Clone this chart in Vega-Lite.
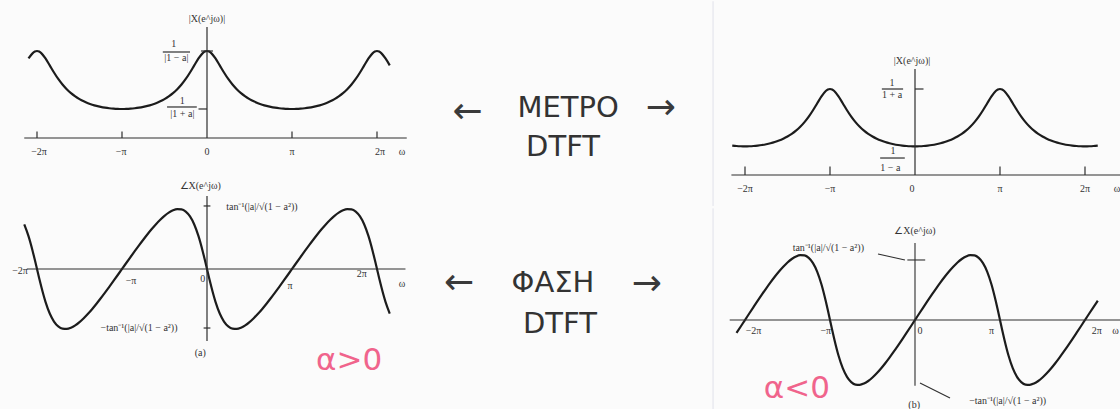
{
"$schema":"https://vega.github.io/schema/vega-lite/v6.json",
"padding":0,
"background":"#fbfbfb",
"config":{"view":{"stroke":null}},
"datasets":{"curve":[
{"t":-2.15,"m1":1.669,"p1":0.3888,"m2":0.6834,"p2":-0.1558},
{"t":-2.1,"m1":1.829,"p1":0.2867,"m2":0.674,"p2":-0.1043},
{"t":-2.05,"m1":1.9525,"p1":0.1533,"m2":0.6685,"p2":-0.0523},
{"t":-2.025,"m1":1.9878,"p1":0.0781,"m2":0.6671,"p2":-0.0262},
{"t":-2.0,"m1":2.0,"p1":0,"m2":0.6667,"p2":0},
{"t":-1.975,"m1":1.9878,"p1":-0.0781,"m2":0.6671,"p2":0.0262},
{"t":-1.95,"m1":1.9525,"p1":-0.1533,"m2":0.6685,"p2":0.0523},
{"t":-1.9,"m1":1.829,"p1":-0.2867,"m2":0.674,"p2":0.1043},
{"t":-1.85,"m1":1.669,"p1":-0.3888,"m2":0.6834,"p2":0.1558},
{"t":-1.8,"m1":1.5059,"p1":-0.4584,"m2":0.6969,"p2":0.2063},
{"t":-1.75,"m1":1.3572,"p1":-0.5005,"m2":0.7148,"p2":0.2555},
{"t":-1.7,"m1":1.2289,"p1":-0.5205,"m2":0.7377,"p2":0.3031},
{"t":-1.65,"m1":1.1208,"p1":-0.5228,"m2":0.7661,"p2":0.3484},
{"t":-1.6,"m1":1.0309,"p1":-0.5123,"m2":0.8009,"p2":0.3909},
{"t":-1.55,"m1":0.9563,"p1":-0.4919,"m2":0.8432,"p2":0.4295},
{"t":-1.5,"m1":0.8944,"p1":-0.4636,"m2":0.8944,"p2":0.4636},
{"t":-1.45,"m1":0.8432,"p1":-0.4295,"m2":0.9563,"p2":0.4919},
{"t":-1.4,"m1":0.8009,"p1":-0.3909,"m2":1.0309,"p2":0.5123},
{"t":-1.35,"m1":0.7661,"p1":-0.3484,"m2":1.1208,"p2":0.5228},
{"t":-1.3,"m1":0.7377,"p1":-0.3031,"m2":1.2289,"p2":0.5205},
{"t":-1.25,"m1":0.7148,"p1":-0.2555,"m2":1.3572,"p2":0.5005},
{"t":-1.2,"m1":0.6969,"p1":-0.2063,"m2":1.5059,"p2":0.4584},
{"t":-1.15,"m1":0.6834,"p1":-0.1558,"m2":1.669,"p2":0.3888},
{"t":-1.1,"m1":0.674,"p1":-0.1043,"m2":1.829,"p2":0.2867},
{"t":-1.05,"m1":0.6685,"p1":-0.0523,"m2":1.9525,"p2":0.1533},
{"t":-1.025,"m1":0.6671,"p1":-0.0262,"m2":1.9878,"p2":0.0781},
{"t":-1.0,"m1":0.6667,"p1":0,"m2":2.0,"p2":0},
{"t":-0.975,"m1":0.6671,"p1":0.0262,"m2":1.9878,"p2":-0.0781},
{"t":-0.95,"m1":0.6685,"p1":0.0523,"m2":1.9525,"p2":-0.1533},
{"t":-0.9,"m1":0.674,"p1":0.1043,"m2":1.829,"p2":-0.2867},
{"t":-0.85,"m1":0.6834,"p1":0.1558,"m2":1.669,"p2":-0.3888},
{"t":-0.8,"m1":0.6969,"p1":0.2063,"m2":1.5059,"p2":-0.4584},
{"t":-0.75,"m1":0.7148,"p1":0.2555,"m2":1.3572,"p2":-0.5005},
{"t":-0.7,"m1":0.7377,"p1":0.3031,"m2":1.2289,"p2":-0.5205},
{"t":-0.65,"m1":0.7661,"p1":0.3484,"m2":1.1208,"p2":-0.5228},
{"t":-0.6,"m1":0.8009,"p1":0.3909,"m2":1.0309,"p2":-0.5123},
{"t":-0.55,"m1":0.8432,"p1":0.4295,"m2":0.9563,"p2":-0.4919},
{"t":-0.5,"m1":0.8944,"p1":0.4636,"m2":0.8944,"p2":-0.4636},
{"t":-0.45,"m1":0.9563,"p1":0.4919,"m2":0.8432,"p2":-0.4295},
{"t":-0.4,"m1":1.0309,"p1":0.5123,"m2":0.8009,"p2":-0.3909},
{"t":-0.35,"m1":1.1208,"p1":0.5228,"m2":0.7661,"p2":-0.3484},
{"t":-0.3,"m1":1.2289,"p1":0.5205,"m2":0.7377,"p2":-0.3031},
{"t":-0.25,"m1":1.3572,"p1":0.5005,"m2":0.7148,"p2":-0.2555},
{"t":-0.2,"m1":1.5059,"p1":0.4584,"m2":0.6969,"p2":-0.2063},
{"t":-0.15,"m1":1.669,"p1":0.3888,"m2":0.6834,"p2":-0.1558},
{"t":-0.1,"m1":1.829,"p1":0.2867,"m2":0.674,"p2":-0.1043},
{"t":-0.05,"m1":1.9525,"p1":0.1533,"m2":0.6685,"p2":-0.0523},
{"t":-0.025,"m1":1.9878,"p1":0.0781,"m2":0.6671,"p2":-0.0262},
{"t":0.0,"m1":2.0,"p1":0,"m2":0.6667,"p2":0},
{"t":0.025,"m1":1.9878,"p1":-0.0781,"m2":0.6671,"p2":0.0262},
{"t":0.05,"m1":1.9525,"p1":-0.1533,"m2":0.6685,"p2":0.0523},
{"t":0.1,"m1":1.829,"p1":-0.2867,"m2":0.674,"p2":0.1043},
{"t":0.15,"m1":1.669,"p1":-0.3888,"m2":0.6834,"p2":0.1558},
{"t":0.2,"m1":1.5059,"p1":-0.4584,"m2":0.6969,"p2":0.2063},
{"t":0.25,"m1":1.3572,"p1":-0.5005,"m2":0.7148,"p2":0.2555},
{"t":0.3,"m1":1.2289,"p1":-0.5205,"m2":0.7377,"p2":0.3031},
{"t":0.35,"m1":1.1208,"p1":-0.5228,"m2":0.7661,"p2":0.3484},
{"t":0.4,"m1":1.0309,"p1":-0.5123,"m2":0.8009,"p2":0.3909},
{"t":0.45,"m1":0.9563,"p1":-0.4919,"m2":0.8432,"p2":0.4295},
{"t":0.5,"m1":0.8944,"p1":-0.4636,"m2":0.8944,"p2":0.4636},
{"t":0.55,"m1":0.8432,"p1":-0.4295,"m2":0.9563,"p2":0.4919},
{"t":0.6,"m1":0.8009,"p1":-0.3909,"m2":1.0309,"p2":0.5123},
{"t":0.65,"m1":0.7661,"p1":-0.3484,"m2":1.1208,"p2":0.5228},
{"t":0.7,"m1":0.7377,"p1":-0.3031,"m2":1.2289,"p2":0.5205},
{"t":0.75,"m1":0.7148,"p1":-0.2555,"m2":1.3572,"p2":0.5005},
{"t":0.8,"m1":0.6969,"p1":-0.2063,"m2":1.5059,"p2":0.4584},
{"t":0.85,"m1":0.6834,"p1":-0.1558,"m2":1.669,"p2":0.3888},
{"t":0.9,"m1":0.674,"p1":-0.1043,"m2":1.829,"p2":0.2867},
{"t":0.95,"m1":0.6685,"p1":-0.0523,"m2":1.9525,"p2":0.1533},
{"t":0.975,"m1":0.6671,"p1":-0.0262,"m2":1.9878,"p2":0.0781},
{"t":1.0,"m1":0.6667,"p1":0,"m2":2.0,"p2":0},
{"t":1.025,"m1":0.6671,"p1":0.0262,"m2":1.9878,"p2":-0.0781},
{"t":1.05,"m1":0.6685,"p1":0.0523,"m2":1.9525,"p2":-0.1533},
{"t":1.1,"m1":0.674,"p1":0.1043,"m2":1.829,"p2":-0.2867},
{"t":1.15,"m1":0.6834,"p1":0.1558,"m2":1.669,"p2":-0.3888},
{"t":1.2,"m1":0.6969,"p1":0.2063,"m2":1.5059,"p2":-0.4584},
{"t":1.25,"m1":0.7148,"p1":0.2555,"m2":1.3572,"p2":-0.5005},
{"t":1.3,"m1":0.7377,"p1":0.3031,"m2":1.2289,"p2":-0.5205},
{"t":1.35,"m1":0.7661,"p1":0.3484,"m2":1.1208,"p2":-0.5228},
{"t":1.4,"m1":0.8009,"p1":0.3909,"m2":1.0309,"p2":-0.5123},
{"t":1.45,"m1":0.8432,"p1":0.4295,"m2":0.9563,"p2":-0.4919},
{"t":1.5,"m1":0.8944,"p1":0.4636,"m2":0.8944,"p2":-0.4636},
{"t":1.55,"m1":0.9563,"p1":0.4919,"m2":0.8432,"p2":-0.4295},
{"t":1.6,"m1":1.0309,"p1":0.5123,"m2":0.8009,"p2":-0.3909},
{"t":1.65,"m1":1.1208,"p1":0.5228,"m2":0.7661,"p2":-0.3484},
{"t":1.7,"m1":1.2289,"p1":0.5205,"m2":0.7377,"p2":-0.3031},
{"t":1.75,"m1":1.3572,"p1":0.5005,"m2":0.7148,"p2":-0.2555},
{"t":1.8,"m1":1.5059,"p1":0.4584,"m2":0.6969,"p2":-0.2063},
{"t":1.85,"m1":1.669,"p1":0.3888,"m2":0.6834,"p2":-0.1558},
{"t":1.9,"m1":1.829,"p1":0.2867,"m2":0.674,"p2":-0.1043},
{"t":1.95,"m1":1.9525,"p1":0.1533,"m2":0.6685,"p2":-0.0523},
{"t":1.975,"m1":1.9878,"p1":0.0781,"m2":0.6671,"p2":-0.0262},
{"t":2.0,"m1":2.0,"p1":0,"m2":0.6667,"p2":0},
{"t":2.025,"m1":1.9878,"p1":-0.0781,"m2":0.6671,"p2":0.0262},
{"t":2.05,"m1":1.9525,"p1":-0.1533,"m2":0.6685,"p2":0.0523},
{"t":2.1,"m1":1.829,"p1":-0.2867,"m2":0.674,"p2":0.1043},
{"t":2.15,"m1":1.669,"p1":-0.3888,"m2":0.6834,"p2":0.1558}
]},
"hconcat":[
{"vconcat":[
{"width":420,"height":165,
 "encoding":{"x":{"field":"t","type":"quantitative","scale":{"domain":[-2.4353,2.5059],"nice":false,"zero":false},"axis":null},
  "y":{"field":"v","type":"quantitative","scale":{"domain":[-0.6437,3.1494],"nice":false,"zero":false},"axis":null}},
 "layer":[
  {"data":{"name":"curve"},"transform":[{"filter":"datum.t >= -2.1 && datum.t <= 2.15"},{"fold":["m1"],"as":["k","v"]}],
   "mark":{"type":"line","interpolate":"monotone","stroke":"#1c1c1c","strokeWidth":2.2}},
  {"data":{"values":[
    {"t":-2.15,"v":0,"t2":2.35,"v2":0},
    {"t":0,"v":0,"t2":0,"v2":2.55},
    {"t":-2,"v":0,"t2":-2,"v2":0.15},{"t":-1,"v":0,"t2":-1,"v2":0.15},{"t":1,"v":0,"t2":1,"v2":0.15},{"t":2,"v":0,"t2":2,"v2":0.15},
    {"t":-0.07,"v":2,"t2":0.07,"v2":2},
    {"t":-0.1,"v":0.667,"t2":0,"v2":0.667},
    {"t":-0.52,"v":1.977,"t2":-0.2,"v2":1.977},
    {"t":-0.47,"v":0.713,"t2":-0.12,"v2":0.713}]},
   "mark":{"type":"rule","stroke":"#2e2e2e","strokeWidth":1.2},
   "encoding":{"x2":{"field":"t2"},"y2":{"field":"v2"}}},
  {"data":{"values":[
    {"t":-1.976,"v":-0.32,"label":"−2π"},{"t":-1.01,"v":-0.32,"label":"−π"},{"t":0,"v":-0.32,"label":"0"},
    {"t":1.0,"v":-0.32,"label":"π"},{"t":2.035,"v":-0.32,"label":"2π"},{"t":2.294,"v":-0.32,"label":"ω"},
    {"t":0,"v":2.74,"label":"|X(e^jω)|"},
    {"t":-0.39,"v":2.16,"label":"1"},{"t":-0.36,"v":1.84,"label":"|1 − a|"},
    {"t":-0.29,"v":0.85,"label":"1"},{"t":-0.29,"v":0.552,"label":"|1 + a|"}]},
   "mark":{"type":"text","font":"Liberation Serif","fontSize":10,"fill":"#333333"},
   "encoding":{"text":{"field":"label"}}}
 ]},
{"width":420,"height":244,
 "encoding":{"x":{"field":"t","type":"quantitative","scale":{"domain":[-2.4353,2.5059],"nice":false,"zero":false},"axis":null},
  "y":{"field":"v","type":"quantitative","scale":{"domain":[-1.2304,0.8988],"nice":false,"zero":false},"axis":null}},
 "layer":[
  {"data":{"name":"curve"},"transform":[{"filter":"datum.t >= -2.15 && datum.t <= 2.15"},{"fold":["p1"],"as":["k","v"]}],
   "mark":{"type":"line","interpolate":"monotone","stroke":"#1c1c1c","strokeWidth":2.2}},
  {"data":{"values":[
    {"t":-2.12,"v":0,"t2":2.335,"v2":0},
    {"t":0,"v":0.637,"t2":0,"v2":-0.628},
    {"t":-0.04,"v":0.55,"t2":0.04,"v2":0.55},
    {"t":-0.04,"v":-0.515,"t2":0.04,"v2":-0.515}]},
   "mark":{"type":"rule","stroke":"#2e2e2e","strokeWidth":1.2},
   "encoding":{"x2":{"field":"t2"},"y2":{"field":"v2"}}},
  {"data":{"values":[
    {"t":-2.2,"v":-0.02,"label":"−2π"},{"t":-0.894,"v":-0.105,"label":"−π"},{"t":-0.05,"v":-0.087,"label":"0"},
    {"t":0.976,"v":-0.148,"label":"π"},{"t":1.82,"v":-0.04,"label":"2π"},{"t":2.294,"v":-0.131,"label":"ω"},
    {"t":-0.08,"v":0.724,"label":"∠X(e^jω)"},
    {"t":0.646,"v":0.541,"label":"tan⁻¹(|a|/√(1 − a²))"},
    {"t":-0.8,"v":-0.515,"label":"−tan⁻¹(|a|/√(1 − a²))"},
    {"t":-0.08,"v":-0.733,"label":"(a)"}]},
   "mark":{"type":"text","font":"Liberation Serif","fontSize":10,"fill":"#333333"},
   "encoding":{"text":{"field":"label"}}},
  {"data":{"values":[{"t":1.671,"v":-0.8,"label":"α>0"}]},
   "mark":{"type":"text","font":"DejaVu Sans","fontSize":31,"fill":"#f0648c"},
   "encoding":{"text":{"field":"label"}}}
 ]}
],"spacing":0},
{"width":280,"height":409,
 "encoding":{"x":{"field":"gx","type":"quantitative","scale":{"domain":[0,1],"nice":false,"zero":false},"axis":null},
  "y":{"field":"gy","type":"quantitative","scale":{"domain":[0,1],"reverse":true,"nice":false,"zero":false},"axis":null},
  "text":{"field":"label"}},
 "layer":[
  {"data":{"values":[
   {"gx":0.529,"gy":0.262,"label":"ΜΕΤΡΟ"},
   {"gx":0.511,"gy":0.357,"label":"DTFT"},
   {"gx":0.475,"gy":0.689,"label":"ΦΑΣΗ"},
   {"gx":0.5,"gy":0.79,"label":"DTFT"}]},
   "mark":{"type":"text","font":"DejaVu Sans","fontSize":29,"fill":"#333333"}},
  {"data":{"values":[
   {"gx":0.17,"gy":0.272,"label":"←"},{"gx":0.86,"gy":0.262,"label":"→"},
   {"gx":0.14,"gy":0.69,"label":"←"},{"gx":0.81,"gy":0.692,"label":"→"}]},
   "mark":{"type":"text","font":"DejaVu Sans","fontSize":36,"fill":"#3a3a3a"}}
 ]},
{"vconcat":[
{"width":420,"height":205,
 "encoding":{"x":{"field":"t","type":"quantitative","scale":{"domain":[-2.5294,2.4118],"nice":false,"zero":false},"axis":null},
  "y":{"field":"v","type":"quantitative","scale":{"domain":[-0.7209,4.0465],"nice":false,"zero":false},"axis":null}},
 "layer":[
  {"data":{"values":[{"t":-2.376,"v":-0.72,"t2":-2.376,"v2":4.04}]},
   "mark":{"type":"rule","stroke":"#e0e1ea","strokeWidth":1},
   "encoding":{"x2":{"field":"t2"},"y2":{"field":"v2"}}},
  {"data":{"name":"curve"},"transform":[{"filter":"datum.t >= -2.15 && datum.t <= 2.15"},{"fold":["m2"],"as":["k","v"]}],
   "mark":{"type":"line","interpolate":"monotone","stroke":"#1c1c1c","strokeWidth":2.2}},
  {"data":{"values":[
    {"t":-2.16,"v":0,"t2":2.45,"v2":0},
    {"t":0,"v":0,"t2":0,"v2":2.465},
    {"t":-2,"v":0,"t2":-2,"v2":0.2},{"t":-1,"v":0,"t2":-1,"v2":0.2},{"t":1,"v":0,"t2":1,"v2":0.2},{"t":2,"v":0,"t2":2,"v2":0.2},
    {"t":0,"v":2,"t2":0.1,"v2":2},
    {"t":-0.39,"v":2.0,"t2":-0.14,"v2":2.0},
    {"t":-0.41,"v":0.395,"t2":-0.12,"v2":0.395}]},
   "mark":{"type":"rule","stroke":"#2e2e2e","strokeWidth":1.2},
   "encoding":{"x2":{"field":"t2"},"y2":{"field":"v2"}}},
  {"data":{"values":[
    {"t":-2.0,"v":-0.326,"label":"−2π"},{"t":-1.0,"v":-0.326,"label":"−π"},{"t":-0.035,"v":-0.326,"label":"0"},
    {"t":1.0,"v":-0.326,"label":"π"},{"t":2.0,"v":-0.326,"label":"2π"},{"t":2.376,"v":-0.326,"label":"ω"},
    {"t":-0.035,"v":2.65,"label":"|X(e^jω)|"},
    {"t":-0.27,"v":2.14,"label":"1"},{"t":-0.27,"v":1.86,"label":"1 + a"},
    {"t":-0.26,"v":0.558,"label":"1"},{"t":-0.29,"v":0.163,"label":"1 − a"}]},
   "mark":{"type":"text","font":"Liberation Serif","fontSize":10,"fill":"#333333"},
   "encoding":{"text":{"field":"label"}}}
 ]},
{"width":420,"height":204,
 "encoding":{"x":{"field":"t","type":"quantitative","scale":{"domain":[-2.5294,2.4118],"nice":false,"zero":false},"axis":null},
  "y":{"field":"v","type":"quantitative","scale":{"domain":[-0.7419,0.9032],"nice":false,"zero":false},"axis":null}},
 "layer":[
  {"data":{"values":[{"t":-2.376,"v":-0.74,"t2":-2.376,"v2":0.9}]},
   "mark":{"type":"rule","stroke":"#e0e1ea","strokeWidth":1},
   "encoding":{"x2":{"field":"t2"},"y2":{"field":"v2"}}},
  {"data":{"name":"curve"},"transform":[{"filter":"datum.t >= -2.1 && datum.t <= 2.15"},{"fold":["p2"],"as":["k","v"]}],
   "mark":{"type":"line","interpolate":"monotone","stroke":"#1c1c1c","strokeWidth":2.2}},
  {"data":{"values":[
    {"t":-2.18,"v":0,"t2":2.45,"v2":0},
    {"t":0,"v":0.621,"t2":0,"v2":-0.53},
    {"t":-0.09,"v":0.484,"t2":0.12,"v2":0.484},
    {"t":-0.435,"v":0.532,"t2":-0.118,"v2":0.484},
    {"t":0.059,"v":-0.508,"t2":0.412,"v2":-0.629}]},
   "mark":{"type":"rule","stroke":"#2e2e2e","strokeWidth":1.1},
   "encoding":{"x2":{"field":"t2"},"y2":{"field":"v2"}}},
  {"data":{"values":[
    {"t":-1.9,"v":-0.089,"label":"−2π"},{"t":-1.05,"v":-0.089,"label":"−π"},{"t":0.06,"v":-0.089,"label":"0"},
    {"t":0.9,"v":-0.089,"label":"π"},{"t":2.14,"v":-0.089,"label":"2π"},{"t":2.36,"v":-0.089,"label":"ω"},
    {"t":0,"v":0.718,"label":"∠X(e^jω)"},
    {"t":-1.02,"v":0.58,"label":"tan⁻¹(|a|/√(1 − a²))"},
    {"t":1.09,"v":-0.653,"label":"−tan⁻¹(|a|/√(1 − a²))"},
    {"t":-0.01,"v":-0.685,"label":"(b)"}]},
   "mark":{"type":"text","font":"Liberation Serif","fontSize":10,"fill":"#333333"},
   "encoding":{"text":{"field":"label"}}},
  {"data":{"values":[{"t":-1.39,"v":-0.56,"label":"α<0"}]},
   "mark":{"type":"text","font":"DejaVu Sans","fontSize":31,"fill":"#f0648c"},
   "encoding":{"text":{"field":"label"}}}
 ]}
],"spacing":0}
],
"spacing":0
}
